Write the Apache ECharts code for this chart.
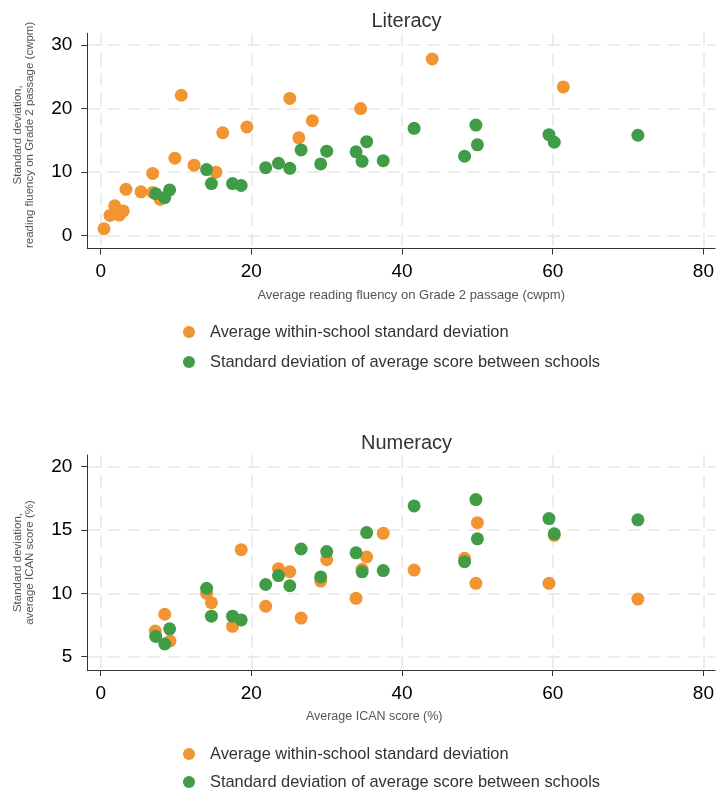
<!DOCTYPE html>
<html>
<head>
<meta charset="utf-8">
<script src="https://cdn.jsdelivr.net/npm/echarts@6/dist/echarts.min.js"></script>
<style>
html,body{margin:0;padding:0;background:#fff;}
#chart{width:717px;height:793px;}
</style>
</head>
<body>
<div id="chart"></div>
<script>
// ---- Data ----
const seriesNames = ['Average within-school standard deviation', 'Standard deviation of average score between schools'];

// Literacy: within-school SD (orange)
const litWithinX = [0.44, 10.7, 25.1, 34.5, 28.1, 26.3, 19.4, 16.2, 9.85, 12.4, 15.3, 6.9, 3.36, 5.35, 6.9, 7.9, 1.86, 1.23, 2.47, 3.0, 44.0, 61.4];
const litWithinY = [1.1, 22.1, 21.6, 20.0, 18.1, 15.4, 17.1, 16.2, 12.2, 11.1, 10.0, 9.8, 7.3, 6.9, 6.8, 5.7, 4.7, 3.2, 3.25, 3.9, 27.8, 23.4];

// Between-school SD (green) - same in both panels
const betweenX = [7.3, 8.5, 9.15, 14.06, 14.7, 17.5, 18.65, 21.9, 23.6, 25.1, 26.6, 29.2, 30.0, 33.9, 35.3, 34.7, 37.5, 41.6, 49.8, 50.0, 48.3, 59.5, 60.2, 71.3];
const betweenY = [6.6, 6.0, 7.2, 10.4, 8.2, 8.2, 7.9, 10.7, 11.4, 10.6, 13.5, 11.3, 13.3, 13.2, 14.8, 11.7, 11.8, 16.9, 17.4, 14.3, 12.5, 15.9, 14.7, 15.8];

// Numeracy: within-school SD (orange)
const numWithinX = [8.5, 7.25, 9.2, 14.06, 14.7, 17.5, 18.65, 21.9, 23.6, 25.1, 26.6, 29.2, 30.0, 33.9, 35.3, 34.7, 37.5, 41.6, 49.8, 50.0, 48.3, 59.5, 60.2, 71.3];
const numWithinY = [8.35, 7.03, 6.24, 10.0, 9.26, 7.4, 13.45, 8.98, 11.95, 11.71, 8.05, 10.97, 12.66, 9.61, 12.87, 11.9, 14.74, 11.84, 10.79, 15.58, 12.77, 10.79, 14.58, 9.55];

// Tick labels
const xTicks = [0, 20, 40, 60, 80];
const litYTicks = [0, 10, 20, 30];
const numYTicks = [5, 10, 15, 20];

const titles = ['Literacy', 'Numeracy'];
const xNames = ['Average reading fluency on Grade 2 passage (cwpm)', 'Average ICAN score (%)'];
const yNames = ['Standard deviation,\nreading fluency on Grade 2 passage (cwpm)', 'Standard deviation,\naverage ICAN score (%)'];

// ---- Build ----
const FONT = "'Liberation Sans', Arial, Helvetica, sans-serif";
const ORANGE = '#f29431';
const GREEN = '#409c47';
const zip = (xs, ys) => xs.map((x, i) => [x, ys[i]]);

const gridLine = { show: true, lineStyle: { type: [13, 7], color: '#e6e6e6', width: 1.5 } };

function xAxisCfg(idx, namePad, nameSize) {
  return {
    type: 'value', gridIndex: idx, min: -1.776, max: 81.55,
    name: xNames[idx], nameLocation: 'middle', nameGap: 40,
    nameTextStyle: { fontFamily: FONT, fontSize: nameSize, color: '#555', padding: namePad },
    axisLine: { show: true, onZero: false, lineStyle: { color: '#333', width: 1 } },
    axisTick: { show: true, length: 6, customValues: xTicks, lineStyle: { color: '#333' } },
    axisLabel: { customValues: xTicks, fontFamily: FONT, fontSize: 19, color: '#000', margin: 14 },
    splitLine: gridLine
  };
}
function yAxisCfg(idx, min, max, ticks, namePad) {
  return {
    type: 'value', gridIndex: idx, min: min, max: max,
    name: yNames[idx], nameLocation: 'middle', nameGap: 51,
    nameTextStyle: { fontFamily: FONT, fontSize: 11.5, color: '#555', lineHeight: 12, padding: namePad },
    axisLine: { show: true, onZero: false, lineStyle: { color: '#333', width: 1 } },
    axisTick: { show: true, length: 6, customValues: ticks, lineStyle: { color: '#333' } },
    axisLabel: { customValues: ticks, fontFamily: FONT, fontSize: 19, color: '#000', margin: 15 },
    splitLine: gridLine
  };
}

const legendCfg = (top, gap) => ({
  orient: 'vertical', left: 183, top: top, padding: 0, icon: 'circle',
  itemWidth: 12, itemHeight: 12, itemGap: gap, data: seriesNames,
  textStyle: { fontFamily: FONT, fontSize: 16.4, color: '#333', padding: [0, 0, 0, 10] }
});

const sym = 13;
const option = {
  backgroundColor: '#fff',
  animation: false,
  textStyle: { fontFamily: FONT },
  title: [
    { text: titles[0], left: 401.5, top: 6, textAlign: 'center', textStyle: { fontFamily: FONT, fontSize: 20, fontWeight: 'normal', color: '#333' } },
    { text: titles[1], left: 401.5, top: 428, textAlign: 'center', textStyle: { fontFamily: FONT, fontSize: 20, fontWeight: 'normal', color: '#333' } }
  ],
  grid: [
    { left: 87.3, right: 1, top: 33.3, height: 215.2 },
    { left: 87.3, right: 1, top: 455, height: 215 }
  ],
  xAxis: [xAxisCfg(0, [0, 0, 0, 20], 13), xAxisCfg(1, [0, 54, 0, 0], 12.5)],
  yAxis: [yAxisCfg(0, -2.01, 31.84, litYTicks, [0, 0, 0, 12]), yAxisCfg(1, 3.95, 20.92, numYTicks, 0)],
  legend: [legendCfg(324, 14), legendCfg(746, 12)],
  series: [
    { name: seriesNames[0], type: 'scatter', xAxisIndex: 0, yAxisIndex: 0, symbolSize: sym, itemStyle: { color: ORANGE, opacity: 1 }, data: zip(litWithinX, litWithinY) },
    { name: seriesNames[1], type: 'scatter', xAxisIndex: 0, yAxisIndex: 0, symbolSize: sym, itemStyle: { color: GREEN, opacity: 1 }, data: zip(betweenX, betweenY) },
    { name: seriesNames[0], type: 'scatter', xAxisIndex: 1, yAxisIndex: 1, symbolSize: sym, itemStyle: { color: ORANGE, opacity: 1 }, data: zip(numWithinX, numWithinY) },
    { name: seriesNames[1], type: 'scatter', xAxisIndex: 1, yAxisIndex: 1, symbolSize: sym, itemStyle: { color: GREEN, opacity: 1 }, data: zip(betweenX, betweenY) }
  ]
};

const chart = echarts.init(document.getElementById('chart'), null, { renderer: 'canvas' });
chart.setOption(option);
</script>
</body>
</html>
